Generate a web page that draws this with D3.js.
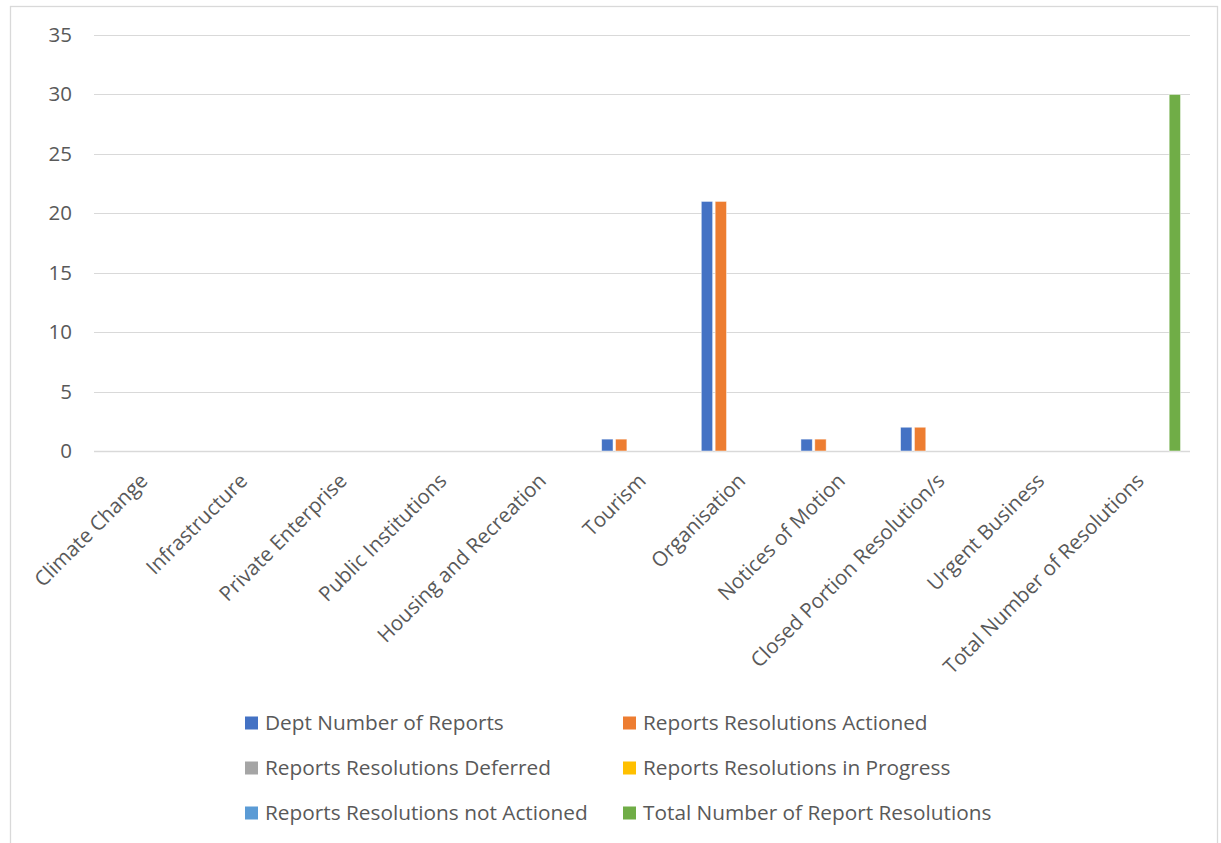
<!DOCTYPE html>
<html>
<head>
<meta charset="utf-8">
<script src="https://cdn.jsdelivr.net/npm/d3@7"></script>
<style>
  html, body { margin: 0; padding: 0; background: #fff; }
  svg { display: block; }
  text { font-family: "Open Sans", sans-serif; fill: #595959; }
</style>
</head>
<body>
<svg id="chart" width="1221" height="843"></svg>
<script>
// Categories along the x axis
const categories = [
  "Climate Change", "Infrastructure", "Private Enterprise", "Public Institutions",
  "Housing and Recreation", "Tourism", "Organisation", "Notices of Motion",
  "Closed Portion Resolution/s", "Urgent Business", "Total Number of Resolutions"
];

// Series names and values (one value per category)
const seriesNames = [
  "Dept Number of Reports",
  "Reports Resolutions Actioned",
  "Reports Resolutions Deferred",
  "Reports Resolutions in Progress",
  "Reports Resolutions not Actioned",
  "Total Number of Report Resolutions"
];
const deptReports        = [0, 0, 0, 0, 0, 1, 21, 1, 2, 0, 0];
const resolutionsActioned = [0, 0, 0, 0, 0, 1, 21, 1, 2, 0, 0];
const resolutionsDeferred = [0, 0, 0, 0, 0, 0, 0, 0, 0, 0, 0];
const resolutionsProgress = [0, 0, 0, 0, 0, 0, 0, 0, 0, 0, 0];
const resolutionsNotActioned = [0, 0, 0, 0, 0, 0, 0, 0, 0, 0, 0];
const totalReportResolutions = [0, 0, 0, 0, 0, 0, 0, 0, 0, 0, 30];

const seriesColors = ["#4472C4", "#ED7D31", "#A5A5A5", "#FFC000", "#5B9BD5", "#70AD47"];
const yTicks = [0, 5, 10, 15, 20, 25, 30, 35];

const seriesValues = [deptReports, resolutionsActioned, resolutionsDeferred,
  resolutionsProgress, resolutionsNotActioned, totalReportResolutions];

const svg = d3.select("#chart");

// Outer chart frame
svg.append("rect")
  .attr("x", 10.5).attr("y", 6.5)
  .attr("width", 1207).attr("height", 900)
  .attr("fill", "none").attr("stroke", "#d9d9d9").attr("stroke-width", 1.3);

const plot = { left: 94, right: 1190, top: 35, bottom: 451 };

const x0 = d3.scaleBand().domain(categories)
  .range([plot.left, plot.right]).paddingInner(0.19).paddingOuter(0.095);
const x1 = d3.scaleBand().domain(d3.range(seriesNames.length))
  .range([0, x0.bandwidth()]).paddingInner(0.18);
const y = d3.scaleLinear().domain([0, 35]).range([plot.bottom, plot.top]);

// Horizontal gridlines
svg.append("g")
  .selectAll("line")
  .data(yTicks)
  .join("line")
  .attr("x1", plot.left).attr("x2", plot.right)
  .attr("y1", d => Math.round(y(d)) + 0.5).attr("y2", d => Math.round(y(d)) + 0.5)
  .attr("stroke", "#d9d9d9")
  .attr("stroke-width", d => d === 0 ? 1.6 : 1.2);

// Y axis labels
const yAxis = d3.axisLeft(y).tickValues(yTicks).tickSize(0).tickPadding(0);
svg.append("g")
  .attr("transform", `translate(72,0)`)
  .call(yAxis)
  .call(g => g.select(".domain").remove())
  .call(g => g.selectAll("text")
    .attr("font-size", 20.5).attr("fill", "#595959")
    .style("font-family", "'Open Sans', sans-serif"));

// Bars
const groups = svg.append("g")
  .selectAll("g")
  .data(categories)
  .join("g")
  .attr("transform", d => `translate(${x0(d)},0)`);

groups.selectAll("rect")
  .data((c, i) => seriesValues.map((vals, s) => ({ s, v: vals[i] })))
  .join("rect")
  .filter(d => d.v > 0)
  .attr("x", d => x1(d.s))
  .attr("y", d => y(d.v))
  .attr("width", x1.bandwidth())
  .attr("height", d => y(0) - y(d.v))
  .attr("fill", d => seriesColors[d.s])
  .attr("stroke", "#fff")
  .attr("stroke-opacity", 0.6)
  .attr("stroke-width", 0.8);

// X axis category labels, rotated
const xAxis = d3.axisBottom(x0).tickSize(0).tickPadding(0);
svg.append("g")
  .attr("transform", `translate(0,${plot.bottom})`)
  .call(xAxis)
  .call(g => g.select(".domain").remove())
  .call(g => g.selectAll("text")
    .attr("font-size", 20.5)
    .attr("fill", "#595959")
    .style("font-family", "'Open Sans', sans-serif")
    .attr("text-anchor", "end")
    .attr("dy", "0.35em")
    .attr("transform", "translate(0,26) rotate(-45)"));

// Legend, two columns
const legend = svg.append("g");
const legendCols = [245, 623];
const legendRows = [723, 768, 813];
seriesNames.forEach((name, i) => {
  const lx = legendCols[i % 2];
  const ly = legendRows[Math.floor(i / 2)];
  const item = legend.append("g").attr("transform", `translate(${lx},${ly})`);
  item.append("rect")
    .attr("x", 0).attr("y", -6.5).attr("width", 13).attr("height", 13)
    .attr("fill", seriesColors[i]);
  item.append("text")
    .attr("x", 20).attr("y", 0).attr("dy", "0.35em")
    .attr("font-size", 20.8)
    .text(name);
});
</script>
</body>
</html>
